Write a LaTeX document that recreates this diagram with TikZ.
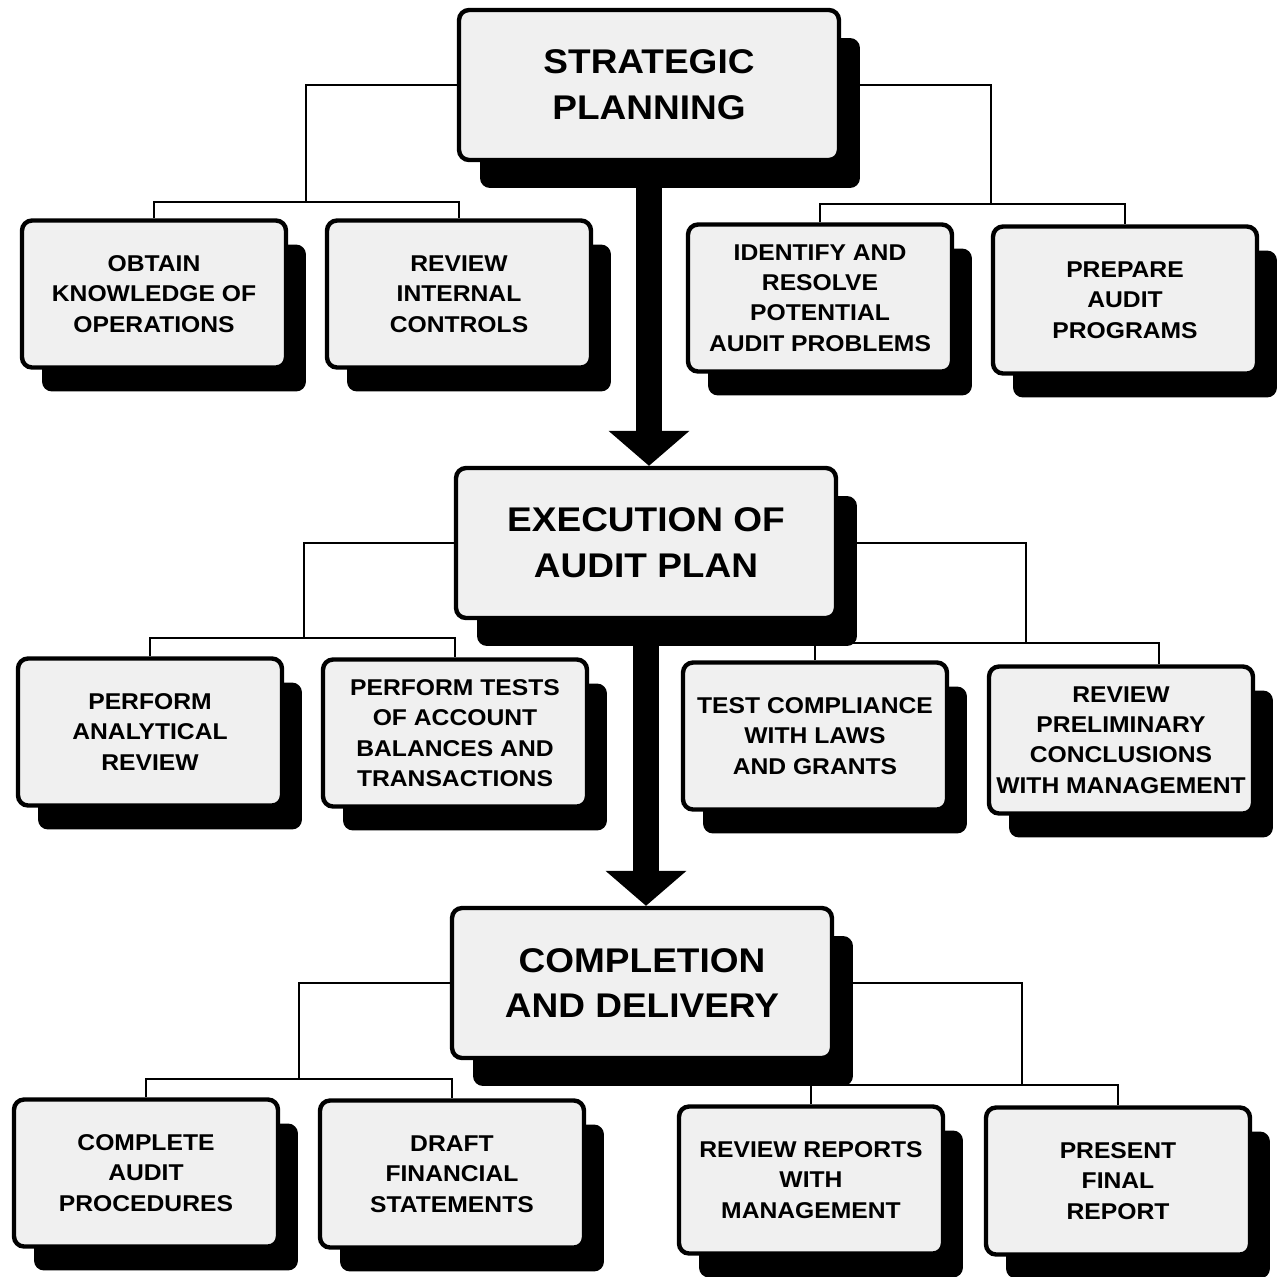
\documentclass[tikz,border=0pt]{standalone}
\usepackage{fontspec}
\setmainfont{Liberation Sans}[FakeStretch=1.08]
\usetikzlibrary{arrows.meta,shadows,backgrounds}

\begin{document}
\begin{tikzpicture}[
  x=0.02cm, y=-0.02cm,
  box/.style={draw, line width=2.5pt, rounded corners=2mm, fill=black!6, align=center, inner sep=0pt},
  stagebox/.style={box, minimum width=7.6cm, minimum height=3cm,
    font=\bfseries\fontsize{19.5}{26}\selectfont,
    drop shadow={shadow xshift=4.2mm, shadow yshift=-5.6mm, fill=black, opacity=1}},
  taskbox/.style={box, minimum width=5.28cm, minimum height=2.94cm,
    font=\bfseries\fontsize{13}{17.3}\selectfont,
    drop shadow={shadow xshift=4mm, shadow yshift=-4.8mm, fill=black, opacity=1}},
  conn/.style={line width=0.8pt},
  bigarrow/.style={line width=5.2mm, -{Triangle[width=15.8mm, length=7mm]}}
]
\useasboundingbox (0,0) rectangle (1279,1276);

% Stages
\node[stagebox] (sp)    at (649,85)  {STRATEGIC\\PLANNING};
\node[stagebox] (exec)  at (646,543) {EXECUTION OF\\AUDIT PLAN};
\node[stagebox] (compl) at (642,983) {COMPLETION\\AND DELIVERY};

% Tasks of strategic planning
\node[taskbox] (obtain)   at (154,294)  {OBTAIN\\KNOWLEDGE OF\\OPERATIONS};
\node[taskbox] (review)   at (459,294)  {REVIEW\\INTERNAL\\CONTROLS};
\node[taskbox] (identify) at (820,298)  {IDENTIFY AND\\RESOLVE\\POTENTIAL\\AUDIT PROBLEMS};
\node[taskbox] (prepare)  at (1125,300) {PREPARE\\AUDIT\\PROGRAMS};

% Tasks of execution
\node[taskbox] (analyt) at (150,732)  {PERFORM\\ANALYTICAL\\REVIEW};
\node[taskbox] (tests)  at (455,733)  {PERFORM TESTS\\OF ACCOUNT\\BALANCES AND\\TRANSACTIONS};
\node[taskbox] (comply) at (815,736)  {TEST COMPLIANCE\\WITH LAWS\\AND GRANTS};
\node[taskbox] (prelim) at (1121,740) {REVIEW\\PRELIMINARY\\CONCLUSIONS\\WITH MANAGEMENT};

% Tasks of completion
\node[taskbox] (complete) at (146,1173)  {COMPLETE\\AUDIT\\PROCEDURES};
\node[taskbox] (draft)    at (452,1174)  {DRAFT\\FINANCIAL\\STATEMENTS};
\node[taskbox] (reports)  at (811,1180)  {REVIEW REPORTS\\WITH\\MANAGEMENT};
\node[taskbox] (present)  at (1118,1181) {PRESENT\\FINAL\\REPORT};

% Junctions
\coordinate (spL) at (306,202);
\coordinate (spR) at (991,204);
\coordinate (exL) at (304,638);
\coordinate (exR) at (1026,643);
\coordinate (coL) at (299,1079);
\coordinate (coR) at (1022,1085);

\begin{scope}[on background layer]
% Connections
\draw[conn] (sp.west) -| (spL);
\draw[conn] (obtain.north) |- (spL) -| (review.north);
\draw[conn] (sp.east) -| (spR);
\draw[conn] (identify.north) |- (spR) -| (prepare.north);

\draw[conn] (exec.west) -| (exL);
\draw[conn] (analyt.north) |- (exL) -| (tests.north);
\draw[conn] (exec.east) -| (exR);
\draw[conn] (comply.north) |- (exR) -| ([xshift=7.6mm]prelim.north);

\draw[conn] (compl.west) -| (coL);
\draw[conn] (complete.north) |- (coL) -| (draft.north);
\draw[conn] (compl.east) -| (coR);
\draw[conn] (reports.north) |- (coR) -| (present.north);

% Flow between stages
\draw[bigarrow] (sp.south) -- (sp.south |- exec.north);
\draw[bigarrow] (exec.south) -- (exec.south |- compl.north);
\end{scope}

\end{tikzpicture}
\end{document}
